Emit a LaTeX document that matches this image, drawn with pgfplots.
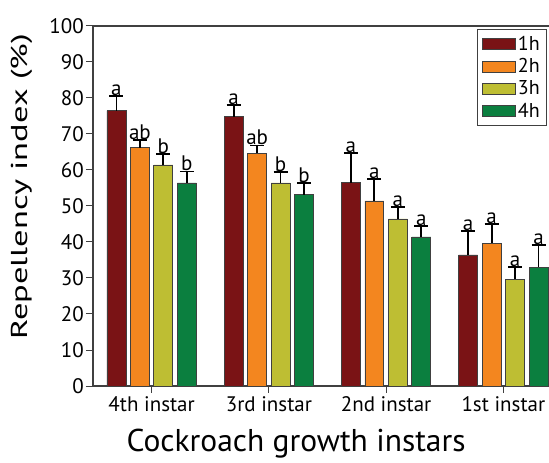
\documentclass[border=0pt]{standalone}
\usepackage{graphicx}
\usepackage{pgfplots}
\usepackage{pgfplotstable}
\pgfplotsset{compat=1.18}
\usepackage{fontspec}
\setmainfont{PT Sans}
\definecolor{c1}{HTML}{7A1315}
\definecolor{c2}{HTML}{F3861F}
\definecolor{c3}{HTML}{BEBE33}
\definecolor{c4}{HTML}{0B7F3F}
\definecolor{edge}{HTML}{404040}

\pgfplotstableread{
x y e l
0 76.5 4.1 a
1 74.8 3.3 a
2 56.5 8.3 a
3 36.4 6.7 a
}\dataA
\pgfplotstableread{
x y e l
0 66.2 2.1 ab
1 64.7 2.1 ab
2 51.4 6.0 a
3 39.7 5.3 a
}\dataB
\pgfplotstableread{
x y e l
0 61.4 3.0 b
1 56.4 3.0 b
2 46.4 3.4 a
3 29.7 3.4 a
}\dataC
\pgfplotstableread{
x y e l
0 56.4 3.2 b
1 53.1 3.2 b
2 41.4 3.0 a
3 33.0 6.1 a
}\dataD

\pgfplotsset{
  barstyle/.style={ybar, bar width=0.162, bar shift=0pt, draw=edge, line width=0.8pt,
    error bars/y dir=plus, error bars/y explicit,
    error bars/error bar style={line width=1.8pt, black},
    error bars/error mark options={rotate=90, mark size=7pt, line width=1.8pt, black}},
  letstyle/.style={only marks, mark=none, point meta=explicit symbolic,
    nodes near coords, every node near coord/.append style={anchor=south, inner sep=0.3pt, font=\fontsize{21}{21}\selectfont, text=black}},
}

\begin{document}
\begin{tikzpicture}
\useasboundingbox (-93pt,-77pt) rectangle (456pt,386pt);
\begin{axis}[
  at={(0,0)}, anchor=south west,
  scale only axis, width=469pt, height=360pt,
  xmin=-0.5, xmax=3.5, ymin=0, ymax=100,
  xtick={0,1,2,3},
  xticklabels={4th instar,3rd instar,2nd instar,1st instar},
  ytick={0,10,...,100},
  tick align=outside, xtick pos=bottom, ytick pos=left,
  major tick length=7pt,
  tick style={draw=black!75, line width=1pt},
  axis line style={draw=black!75, line width=1.2pt},
  ticklabel style={font=\fontsize{21}{21}\selectfont},
  yticklabel style={inner sep=2pt},
  /pgf/number format/assume math mode=true,
  xlabel={Cockroach growth instars},
  ylabel={\scalebox{1.5}[1]{Repellency index (\%)}},
  xlabel style={font=\fontsize{31.5}{31.5}\selectfont, at={(axis description cs:0.433,-0.183)}, anchor=base},
  ylabel style={font=\fontsize{23}{23}\selectfont, at={(axis description cs:-0.140,0.553)}, anchor=base},
  legend style={at={(0.818,0.992)}, anchor=north west, draw=black!75, line width=1pt,
    font=\fontsize{20}{20}\selectfont, row sep=2.5pt, inner sep=5pt,
    nodes={inner sep=2pt}},
  legend cell align=left,
  legend image code/.code={\draw[#1, draw=edge, line width=0.8pt] (0pt,-5.5pt) rectangle (33pt,5.5pt);},
]
\addplot[barstyle, fill=c1] table[x expr=\thisrow{x}-0.3, y=y, y error=e] {\dataA};
\addlegendentry{1h}
\addplot[barstyle, fill=c2] table[x expr=\thisrow{x}-0.1, y=y, y error=e] {\dataB};
\addlegendentry{2h}
\addplot[barstyle, fill=c3] table[x expr=\thisrow{x}+0.1, y=y, y error=e] {\dataC};
\addlegendentry{3h}
\addplot[barstyle, fill=c4] table[x expr=\thisrow{x}+0.3, y=y, y error=e] {\dataD};
\addlegendentry{4h}
\addplot[letstyle, forget plot] table[x expr=\thisrow{x}-0.3, y expr=\thisrow{y}+\thisrow{e}, meta=l] {\dataA};
\addplot[letstyle, forget plot] table[x expr=\thisrow{x}-0.1, y expr=\thisrow{y}+\thisrow{e}, meta=l] {\dataB};
\addplot[letstyle, forget plot] table[x expr=\thisrow{x}+0.1, y expr=\thisrow{y}+\thisrow{e}, meta=l] {\dataC};
\addplot[letstyle, forget plot] table[x expr=\thisrow{x}+0.3, y expr=\thisrow{y}+\thisrow{e}, meta=l] {\dataD};
\end{axis}
\end{tikzpicture}
\end{document}
